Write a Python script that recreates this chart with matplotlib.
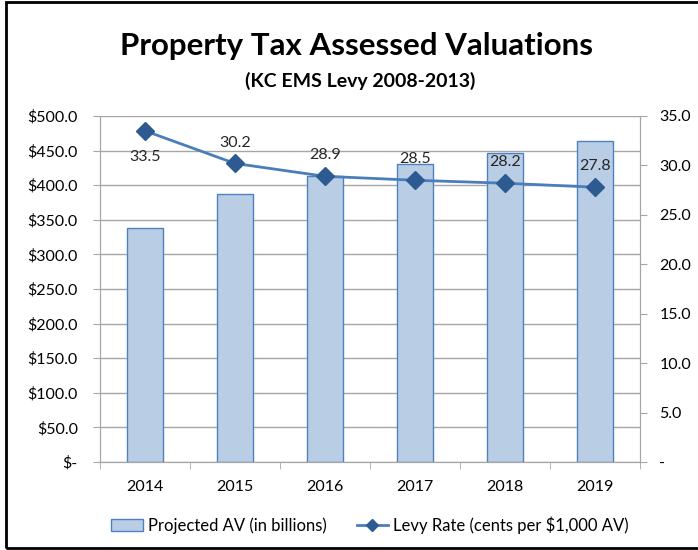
import numpy as np
import matplotlib.pyplot as plt
from matplotlib.patches import Rectangle
from matplotlib.lines import Line2D

plt.rcParams['font.family'] = ['Lato', 'DejaVu Sans']

years = ['2014', '2015', '2016', '2017', '2018', '2019']
av = [338.0, 387.0, 413.0, 431.0, 447.0, 464.0]
rate = [33.5, 30.2, 28.9, 28.5, 28.2, 27.8]
left_ticks = [0, 50, 100, 150, 200, 250, 300, 350, 400, 450, 500]
right_ticks = [0, 5, 10, 15, 20, 25, 30, 35]

bar_face = '#b9cde5'
bar_edge = '#4f81bd'
line_col = '#4a7ebb'
mark_col = '#2c5a91'
grid_col = '#a6a6a6'

fig = plt.figure(figsize=(6.98, 5.5), dpi=100)
ax = fig.add_axes([100/698, 1-462/550, 540/698, 346/550])
ax2 = ax.twinx()

x = np.arange(len(years))
ax.bar(x, av, width=0.41, color=bar_face, edgecolor=bar_edge, linewidth=1, zorder=2)
ax.set_ylim(0, 500)
ax.set_xlim(-0.5, len(years)-0.5)
ax.set_yticks(left_ticks)
ax.set_yticklabels(['$-' if v == 0 else '${:.1f}'.format(v) for v in left_ticks])
ax.yaxis.grid(True, color=grid_col, linewidth=1, zorder=0)
ax.set_axisbelow(True)
ax.set_xticks(x)
ax.set_xticklabels(years)
ax.set_xticks(np.arange(-0.5, len(years)), minor=True)
ax.tick_params(axis='x', which='major', length=0, pad=13, labelsize=11.5)
ax.tick_params(axis='x', which='minor', length=5, color=grid_col)
ax.tick_params(axis='y', length=5, color=grid_col, labelsize=11.5, pad=11)

ax2.plot(x, rate, color=line_col, linewidth=2, marker='D', markersize=9,
         markerfacecolor=mark_col, markeredgecolor=mark_col, zorder=3)
ax2.set_ylim(0, 35)
ax2.set_yticks(right_ticks)
ax2.set_yticklabels(['-' if v == 0 else '{:.1f}'.format(v) for v in right_ticks])
ax2.tick_params(axis='y', length=5, color=grid_col, labelsize=11.5, pad=9)

for i, r in enumerate(rate):
    if i == 0:
        ax2.annotate('{:.1f}'.format(r), (x[i], r), xytext=(0, -14), textcoords='offset points',
                     ha='center', va='top', fontsize=11.5, color='#262626')
    else:
        ax2.annotate('{:.1f}'.format(r), (x[i], r), xytext=(0, 10), textcoords='offset points',
                     ha='center', va='bottom', fontsize=11.5, color='#262626')

for a in (ax, ax2):
    a.spines['top'].set_visible(False)
    for s in ('left', 'right', 'bottom'):
        a.spines[s].set_color(grid_col)

fig.text(357/698, 1-46/550, 'Property Tax Assessed Valuations', ha='center', va='center',
         fontsize=22.5, fontweight='bold')
fig.text(360/698, 1-81/550, '(KC EMS Levy 2008-2013)', ha='center', va='center',
         fontsize=14, fontweight='bold')

handles = [Rectangle((0, 0), 1, 1, facecolor=bar_face, edgecolor=bar_edge),
           Line2D([], [], color=line_col, linewidth=2, marker='D', markersize=6,
                  markerfacecolor=mark_col, markeredgecolor=mark_col)]
fig.legend(handles, ['Projected AV (in billions)', 'Levy Rate (cents per $1,000 AV)'],
           loc='center', bbox_to_anchor=(370/698, 1-525/550), ncol=2, frameon=False,
           fontsize=12, handlelength=1.9, handletextpad=0.3, columnspacing=1.8)

fig.patches.append(Rectangle((6/698, 2/550), 700/698, 546/550, transform=fig.transFigure,
                             fill=False, edgecolor='black', linewidth=2))

fig.savefig('out.png', dpi=100)
